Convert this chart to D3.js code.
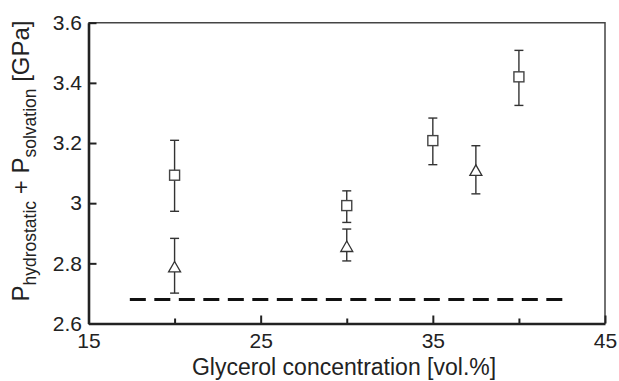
<!DOCTYPE html>
<html>
<head>
<meta charset="utf-8">
<script src="https://cdn.jsdelivr.net/npm/d3@7"></script>
<style>
  body { margin: 0; background: #fff; }
  svg { display: block; font-family: "Liberation Sans", Arial, sans-serif; }
</style>
</head>
<body>
<div id="chart"></div>
<script>
const W = 619, H = 381;
const margin = { top: 22.7, right: 14, bottom: 57.5, left: 88.5 };
const width = W - margin.left - margin.right;
const height = H - margin.top - margin.bottom;

// squares
const sqConc = [20, 30, 35, 40];
const sqValue = [3.093, 2.992, 3.208, 3.420];
const sqLow = [2.973, 2.936, 3.128, 3.325];
const sqHigh = [3.209, 3.041, 3.283, 3.508];

// triangles
const triConc = [20, 30, 37.5];
const triValue = [2.788, 2.856, 3.109];
const triLow = [2.701, 2.808, 3.031];
const triHigh = [2.883, 2.914, 3.191];

// dashed reference level
const refLevel = 2.68;
const refRange = [17.4, 42.7];

const xMajor = [15, 25, 35, 45];
const xMinor = [20, 30, 40];
const yTicks = [2.6, 2.8, 3.0, 3.2, 3.4, 3.6];

const squares = sqConc.map((c, i) => ({ c, v: sqValue[i], lo: sqLow[i], hi: sqHigh[i] }));
const triangles = triConc.map((c, i) => ({ c, v: triValue[i], lo: triLow[i], hi: triHigh[i] }));

const svg = d3.select('#chart').append('svg')
  .attr('width', W).attr('height', H);

const g = svg.append('g')
  .attr('transform', `translate(${margin.left},${margin.top})`);

const x = d3.scaleLinear().domain([15, 45]).range([0, width]);
const y = d3.scaleLinear().domain([2.6, 3.6]).range([height, 0]);

// thin top and right frame
g.append('path')
  .attr('d', `M0,0H${width}V${height}`)
  .attr('fill', 'none')
  .attr('stroke', '#444')
  .attr('stroke-width', 1.5);

// dashed line
g.append('line')
  .attr('x1', x(refRange[0])).attr('x2', x(refRange[1]))
  .attr('y1', y(refLevel)).attr('y2', y(refLevel))
  .attr('stroke', '#111')
  .attr('stroke-width', 3)
  .attr('stroke-dasharray', '16,8.5');

// error bars + markers
function errorBars(data) {
  const eb = g.append('g');
  eb.selectAll('line.v').data(data).join('line')
    .attr('x1', d => x(d.c)).attr('x2', d => x(d.c))
    .attr('y1', d => y(d.lo)).attr('y2', d => y(d.hi))
    .attr('stroke', '#333').attr('stroke-width', 1.4);
  ['lo', 'hi'].forEach(k => {
    eb.selectAll('line.' + k).data(data).join('line')
      .attr('x1', d => x(d.c) - 4.5).attr('x2', d => x(d.c) + 4.5)
      .attr('y1', d => y(d[k])).attr('y2', d => y(d[k]))
      .attr('stroke', '#333').attr('stroke-width', 1.4);
  });
}
errorBars(squares);
errorBars(triangles);

g.selectAll('rect.sq').data(squares).join('rect')
  .attr('x', d => x(d.c) - 5).attr('y', d => y(d.v) - 5)
  .attr('width', 10).attr('height', 10)
  .attr('fill', '#fff').attr('stroke', '#444').attr('stroke-width', 1.4);

g.selectAll('path.tri').data(triangles).join('path')
  .attr('d', d => {
    const cx = x(d.c), cy = y(d.v);
    return `M${cx},${cy - 5.5}L${cx + 6},${cy + 5}L${cx - 6},${cy + 5}Z`;
  })
  .attr('fill', '#fff').attr('stroke', '#333').attr('stroke-width', 1.3);

// axes
const yAxis = g.append('g')
  .call(d3.axisLeft(y).tickValues(yTicks).tickSize(-8).tickSizeOuter(0).tickPadding(6.5)
    .tickFormat(d => d === 3 ? '3' : d3.format('.1f')(d)));

const xMinorAxis = g.append('g')
  .attr('transform', `translate(0,${height})`)
  .call(d3.axisBottom(x).tickValues(xMinor).tickSize(-5).tickFormat(''));

const xAxis = g.append('g')
  .attr('transform', `translate(0,${height})`)
  .call(d3.axisBottom(x).tickValues(xMajor).tickSize(-8).tickSizeOuter(0).tickPadding(9.5));

[yAxis, xAxis, xMinorAxis].forEach(a => {
  a.select('.domain').attr('stroke', '#222').attr('stroke-width', 2.6);
  a.selectAll('.tick line').attr('stroke', '#222').attr('stroke-width', 2);
  a.selectAll('.tick text').attr('fill', '#222').style('font-size', '21px');
});
xMinorAxis.select('.domain').remove();

// axis titles
svg.append('text')
  .attr('x', 344)
  .attr('y', 375)
  .attr('text-anchor', 'middle')
  .attr('fill', '#222')
  .style('font-size', '23px')
  .text('Glycerol concentration [vol.%]');

const yl = svg.append('text')
  .attr('transform', 'translate(29,161) rotate(-90)')
  .attr('text-anchor', 'middle')
  .attr('fill', '#222')
  .style('font-size', '24px');
yl.append('tspan').text('P');
yl.append('tspan').attr('dy', 7).style('font-size', '17.5px').text('hydrostatic');
yl.append('tspan').attr('dy', -7).text(' + P');
yl.append('tspan').attr('dy', 7).style('font-size', '17.5px').text('solvation');
yl.append('tspan').attr('dy', -7).text(' [GPa]');
</script>
</body>
</html>
